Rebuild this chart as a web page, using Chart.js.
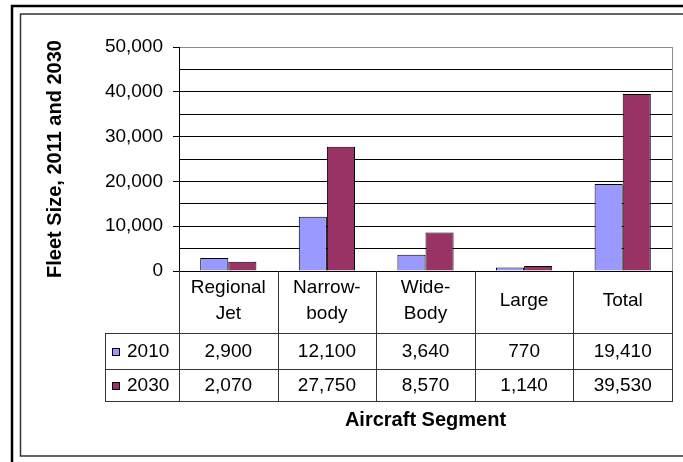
<!DOCTYPE html>
<html>
<head>
<meta charset="utf-8">
<script src="https://cdn.jsdelivr.net/npm/chart.js@4.4.1/dist/chart.umd.min.js"></script>
<style>
  html, body { margin: 0; padding: 0; background: #fff; }
  #wrap { width: 683px; height: 462px; }
</style>
</head>
<body>
<div id="wrap"><canvas id="fleetChart"></canvas></div>
<script>
// Fleet size per aircraft segment, 2010 vs 2030 (bar chart with data table below)
const categories = [['Regional', 'Jet'], ['Narrow-', 'body'], ['Wide-', 'Body'], ['Large'], ['Total']];
const seriesNames = ['2010', '2030'];
const fleet2010 = [2900, 12100, 3640, 770, 19410];
const fleet2030 = [2070, 27750, 8570, 1140, 39530];
const yTickLabels = [0, 10000, 20000, 30000, 40000, 50000];

const FONT = "'Liberation Sans', Arial, sans-serif";
Chart.defaults.font.family = FONT;
Chart.defaults.color = '#000';

const fmt = v => v.toLocaleString('en-US');

// table rows under the plot (y of each horizontal rule)
const TABLE_ROWS = [333, 369, 401];
const TABLE_LEFT = 105;

const tablePlugin = {
    id: 'dataTable',
    beforeDraw(chart) {
        const ctx = chart.ctx;
        ctx.save();
        ctx.fillStyle = '#fff';
        ctx.fillRect(0, 0, chart.width, chart.height);
        ctx.restore();
    },
    afterDraw(chart) {
        const { ctx, chartArea } = chart;
        const xs = chart.scales.x;
        const n = chart.data.labels.length;
        const colW = xs.width / n;
        const top = chartArea.bottom;
        const bottom = TABLE_ROWS[TABLE_ROWS.length - 1];

        ctx.save();
        // right edge of plot area
        ctx.strokeStyle = '#8c8c8c';
        ctx.lineWidth = 1;
        ctx.beginPath();
        ctx.moveTo(Math.round(chartArea.right) + 0.5, chartArea.top);
        ctx.lineTo(Math.round(chartArea.right) + 0.5, chartArea.bottom);
        ctx.stroke();

        // table grid
        ctx.strokeStyle = '#333';
        ctx.beginPath();
        for (let i = 0; i <= n; i++) {
            const x = Math.round(xs.left + i * colW) + 0.5;
            ctx.moveTo(x, top);
            ctx.lineTo(x, bottom);
        }
        ctx.moveTo(TABLE_LEFT + 0.5, TABLE_ROWS[0]);
        ctx.lineTo(TABLE_LEFT + 0.5, bottom);
        TABLE_ROWS.forEach(y => {
            ctx.moveTo(TABLE_LEFT, y + 0.5);
            ctx.lineTo(Math.round(xs.right) + 1, y + 0.5);
        });
        ctx.stroke();

        // values + legend keys
        ctx.font = '19px ' + FONT;
        ctx.textBaseline = 'middle';
        chart.data.datasets.forEach((ds, r) => {
            const yMid = (TABLE_ROWS[r] + TABLE_ROWS[r + 1]) / 2 + 1;
            ctx.fillStyle = ds.backgroundColor;
            ctx.fillRect(112, yMid - 4, 8, 8);
            ctx.strokeStyle = '#000';
            ctx.strokeRect(112.5, yMid - 3.5, 7, 7);
            ctx.fillStyle = '#000';
            ctx.textAlign = 'left';
            ctx.fillText(ds.label, 127, yMid);
            ctx.textAlign = 'center';
            ds.data.forEach((v, i) => {
                ctx.fillText(fmt(v), xs.getPixelForValue(i), yMid);
            });
        });

        // outer frames
        ctx.strokeStyle = '#000';
        ctx.lineWidth = 2.5;
        ctx.strokeRect(12, 6, 700, 480);
        ctx.strokeStyle = '#333';
        ctx.lineWidth = 1.5;
        ctx.strokeRect(20.5, 14, 700, 442);
        ctx.restore();
    }
};

new Chart(document.getElementById('fleetChart'), {
    type: 'bar',
    data: {
        labels: categories,
        datasets: [
            { label: seriesNames[0], data: fleet2010, backgroundColor: '#9999FF', borderColor: '#000', borderWidth: 1 },
            { label: seriesNames[1], data: fleet2030, backgroundColor: '#993366', borderColor: '#000', borderWidth: 1 }
        ]
    },
    options: {
        responsive: true,
        maintainAspectRatio: false,
        animation: false,
        datasets: { bar: { categoryPercentage: 0.57, barPercentage: 1 } },
        layout: { padding: { top: 47, right: 11, left: 0, bottom: 0 } },
        plugins: { legend: { display: false }, tooltip: { enabled: false } },
        scales: {
            x: {
                afterFit: s => { s.height = 191; },
                grid: { color: 'transparent', drawTicks: false },
                border: { color: '#000', width: 1 },
                ticks: {
                    font: { size: 19, lineHeight: 1.37 },
                    padding: 17,
                    crossAlign: 'center',
                    maxRotation: 0,
                    autoSkip: false
                },
                title: {
                    display: true,
                    text: 'Aircraft Segment',
                    font: { size: 20, weight: 'bold' },
                    padding: { top: 0, bottom: 30 }
                }
            },
            y: {
                min: 0,
                max: 50000,
                afterFit: s => { s.width = 179; },
                grid: {
                    color: c => (c.tick && c.tick.value === 50000 ? '#8c8c8c' : '#000'),
                    tickColor: c => (c.tick && yTickLabels.includes(c.tick.value) ? '#000' : 'transparent'),
                    tickLength: 6
                },
                border: { color: '#000', width: 1 },
                ticks: {
                    stepSize: 5000,
                    autoSkip: false,
                    padding: 10,
                    font: { size: 19 },
                    callback: v => (yTickLabels.includes(v) ? fmt(v) : '')
                },
                title: {
                    display: true,
                    text: 'Fleet Size, 2011 and 2030',
                    font: { size: 20, weight: 'bold' },
                    padding: { top: 43, bottom: 0 }
                }
            }
        }
    },
    plugins: [tablePlugin]
});
</script>
</body>
</html>
